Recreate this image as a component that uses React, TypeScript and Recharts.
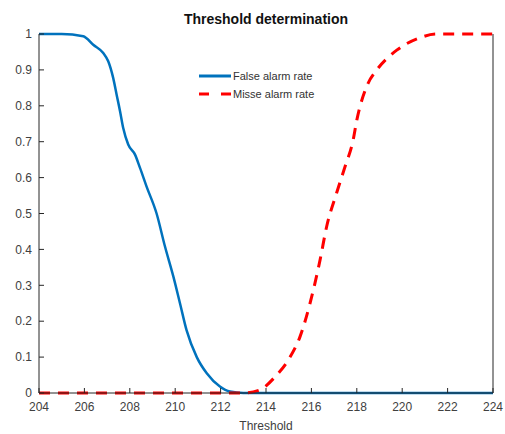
import { LineChart, Line, XAxis, YAxis, Label } from 'recharts';

// Threshold values and rates
const falseAlarmX = [204, 205, 205.95, 206.39, 206.83, 207.05, 207.27, 207.42, 207.57, 207.71, 207.93, 208.23, 208.45, 208.74, 209.18, 209.55, 209.92, 210.21, 210.5, 210.95, 211.39, 211.97, 212.41, 213.0, 224];
const falseAlarmY = [1, 1, 0.994, 0.97, 0.947, 0.924, 0.877, 0.831, 0.785, 0.738, 0.692, 0.664, 0.627, 0.575, 0.5, 0.408, 0.324, 0.25, 0.175, 0.1, 0.055, 0.018, 0.004, 0, 0];

const missedX = [204, 213, 213.7, 214.4, 215.06, 215.5, 215.94, 216.38, 216.67, 217.11, 217.48, 217.84, 218.0, 218.43, 218.88, 219.3, 219.76, 220.8, 221.5, 224];
const missedY = [0, 0, 0.008, 0.045, 0.1, 0.157, 0.25, 0.37, 0.463, 0.557, 0.63, 0.705, 0.76, 0.853, 0.9, 0.93, 0.955, 0.99, 1, 1];

const xTicks = [204, 206, 208, 210, 212, 214, 216, 218, 220, 222, 224];
const yTicks = [0, 0.1, 0.2, 0.3, 0.4, 0.5, 0.6, 0.7, 0.8, 0.9, 1];

const falseAlarm = falseAlarmX.map((x, i) => ({ x, y: falseAlarmY[i] }));
const missed = missedX.map((x, i) => ({ x, y: missedY[i] }));

const axisColor = '#262626';
const font = 'Liberation Sans, Arial, sans-serif';

const legendItems = [
  { name: 'False alarm rate', color: '#0072BD', dash: undefined },
  { name: 'Misse alarm rate', color: '#FF0000', dash: '10 12' },
];

function LegendBox() {
  return (
    <div style={{ position: 'absolute', left: 199, top: 67, fontFamily: font, fontSize: 11, color: '#333' }}>
      {legendItems.map((item) => (
        <div key={item.name} style={{ display: 'flex', alignItems: 'center', height: 18 }}>
          <svg width={32} height={6}>
            <line x1={0} y1={3} x2={32} y2={3} stroke={item.color} strokeWidth={3} strokeDasharray={item.dash} />
          </svg>
          <span style={{ marginLeft: 2 }}>{item.name}</span>
        </div>
      ))}
    </div>
  );
}

export default function App() {
  return (
    <div style={{ position: 'absolute', left: 0, top: 0, width: 505, height: 434, background: '#fff' }}>
      <div
        style={{
          position: 'absolute',
          left: 39,
          width: 454,
          top: 11,
          textAlign: 'center',
          fontFamily: font,
          fontWeight: 'bold',
          fontSize: 14,
          color: '#111',
        }}
      >
        Threshold determination
      </div>
      <LineChart width={505} height={434} margin={{ top: 34, right: 11, bottom: 0, left: 0 }}>
        <XAxis
          xAxisId="bottom"
          dataKey="x"
          type="number"
          domain={[204, 224]}
          ticks={xTicks}
          allowDataOverflow
          height={41}
          stroke={axisColor}
          tickSize={-5}
          tickMargin={14}
          tick={{ fill: '#404040', fontSize: 12, fontFamily: font }}
        >
          <Label value="Threshold" position="insideBottom" offset={4} fill="#404040" fontSize={12} fontFamily={font} />
        </XAxis>
        <XAxis
          xAxisId="top"
          orientation="top"
          dataKey="x"
          type="number"
          domain={[204, 224]}
          ticks={xTicks}
          height={0}
          stroke={axisColor}
          tickSize={-5}
          tickFormatter={() => ''}
        />
        <YAxis
          yAxisId="left"
          type="number"
          domain={[0, 1]}
          ticks={yTicks}
          width={39}
          stroke={axisColor}
          tickSize={-5}
          tickMargin={12}
          tick={{ fill: '#404040', fontSize: 12, fontFamily: font }}
        />
        <YAxis
          yAxisId="right"
          orientation="right"
          type="number"
          domain={[0, 1]}
          ticks={yTicks}
          width={1}
          stroke={axisColor}
          tickSize={-5}
          tickFormatter={() => ''}
        />
        <Line
          data={falseAlarm}
          xAxisId="bottom"
          yAxisId="left"
          dataKey="y"
          type="monotone"
          stroke="#0072BD"
          strokeWidth={2.5}
          dot={false}
          isAnimationActive={false}
        />
        <Line
          data={missed}
          xAxisId="bottom"
          yAxisId="left"
          dataKey="y"
          type="monotone"
          stroke="#FF0000"
          strokeWidth={3}
          strokeDasharray="11 8"
          dot={false}
          isAnimationActive={false}
        />
      </LineChart>
      <LegendBox />
    </div>
  );
}
